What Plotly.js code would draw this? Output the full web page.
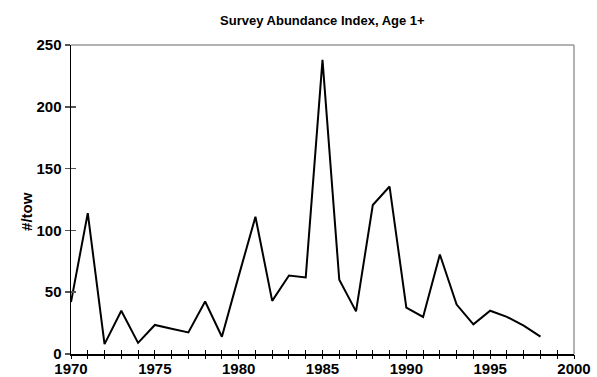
<!DOCTYPE html>
<html><head><meta charset="utf-8">
<script src="https://cdn.plot.ly/plotly-3.0.1.min.js"></script>
<style>html,body{margin:0;padding:0;background:#fff}#c{width:597px;height:377px}</style>
</head><body><div id="c"></div>
<script>
const years = [1970,1971,1972,1973,1974,1975,1976,1977,1978,1979,1980,1981,1982,1983,1984,1985,1986,1987,1988,1989,1990,1991,1992,1993,1994,1995,1996,1997,1998];
const index = [42,114,8,35,9,23.5,20.5,17.5,42.5,14,63,111,43,63.5,62,238,60,34.5,120.5,135.5,37.5,30,80.5,40,24,35,30,23,14];
const yTicks = [0,50,100,150,200,250];
const xTicks = [1970,1975,1980,1985,1990,1995,2000];

const fam = '"Liberation Sans", Arial, sans-serif';
const tf = {family:fam, size:15, color:'#000', weight:'bold'};
const data = [
  {x: years, y: index, type:'scatter', mode:'lines', line:{color:'#000', width:2}, hoverinfo:'skip'},
  {x: [1970], y:[0], xaxis:'x2', yaxis:'y2', type:'scatter', mode:'markers', marker:{opacity:0}, hoverinfo:'skip', showlegend:false},
  {x: [1970], y:[0], xaxis:'x3', yaxis:'y', type:'scatter', mode:'markers', marker:{opacity:0}, hoverinfo:'skip', showlegend:false}
];
const layout = {
  width:597, height:377,
  margin:{l:71, r:23, t:45, b:23},
  paper_bgcolor:'#fff', plot_bgcolor:'#fff',
  showlegend:false,
  font:{family:fam, size:13, color:'#000'},
  title:{text:'Survey Abundance Index, Age 1+', x:0.54, xanchor:'center', y:0.947, yanchor:'middle', font:{family:fam, size:13, color:'#000', weight:'bold'}},
  xaxis:{range:[1970,2000], tickmode:'array', tickvals:xTicks, ticktext:xTicks.map(String),
    ticks:'', showline:true, linecolor:'#000', linewidth:1.5, showgrid:false, zeroline:false,
    tickfont:tf, fixedrange:true},
  xaxis2:{range:[1970,2000], overlaying:'x', anchor:'y', side:'bottom', dtick:1, tick0:1970, ticks:'inside', ticklen:4, tickcolor:'#000',
    showticklabels:false, showgrid:false, zeroline:false, showline:false},
  xaxis3:{range:[1970,2000], overlaying:'x', anchor:'y', side:'bottom', dtick:1, tick0:1970, ticks:'outside', ticklen:4, tickcolor:'#000',
    showticklabels:false, showgrid:false, zeroline:false, showline:false},
  yaxis:{range:[0,250], tickmode:'array', tickvals:yTicks, ticktext:yTicks.map(String),
    ticks:'outside', ticklen:5, tickcolor:'#555', tickwidth:1.5,
    showline:true, linecolor:'#000', linewidth:1.5, showgrid:false, zeroline:false,
    tickfont:tf, fixedrange:true},
  yaxis2:{range:[0,250], overlaying:'y', anchor:'x', side:'left', tickmode:'array', tickvals:yTicks, ticks:'inside', ticklen:5, tickcolor:'#555', tickwidth:1.5,
    showticklabels:false, showgrid:false, zeroline:false, showline:false},
  annotations:[
    {text:'#/tow', xref:'paper', yref:'paper', x:-0.0875, y:0.463, xanchor:'center', yanchor:'middle', textangle:-90, showarrow:false,
     font:{family:fam, size:15, color:'#000', weight:'bold'}}
  ],
  shapes:[
    {type:'line', xref:'paper', yref:'paper', x0:0, x1:1, y0:1, y1:1, line:{color:'#999', width:1.5}},
    {type:'line', xref:'paper', yref:'paper', x0:1, x1:1, y0:0, y1:1, line:{color:'#999', width:1.5}}
  ]
};
Plotly.newPlot('c', data, layout, {displayModeBar:false, staticPlot:true});
</script></body></html>
